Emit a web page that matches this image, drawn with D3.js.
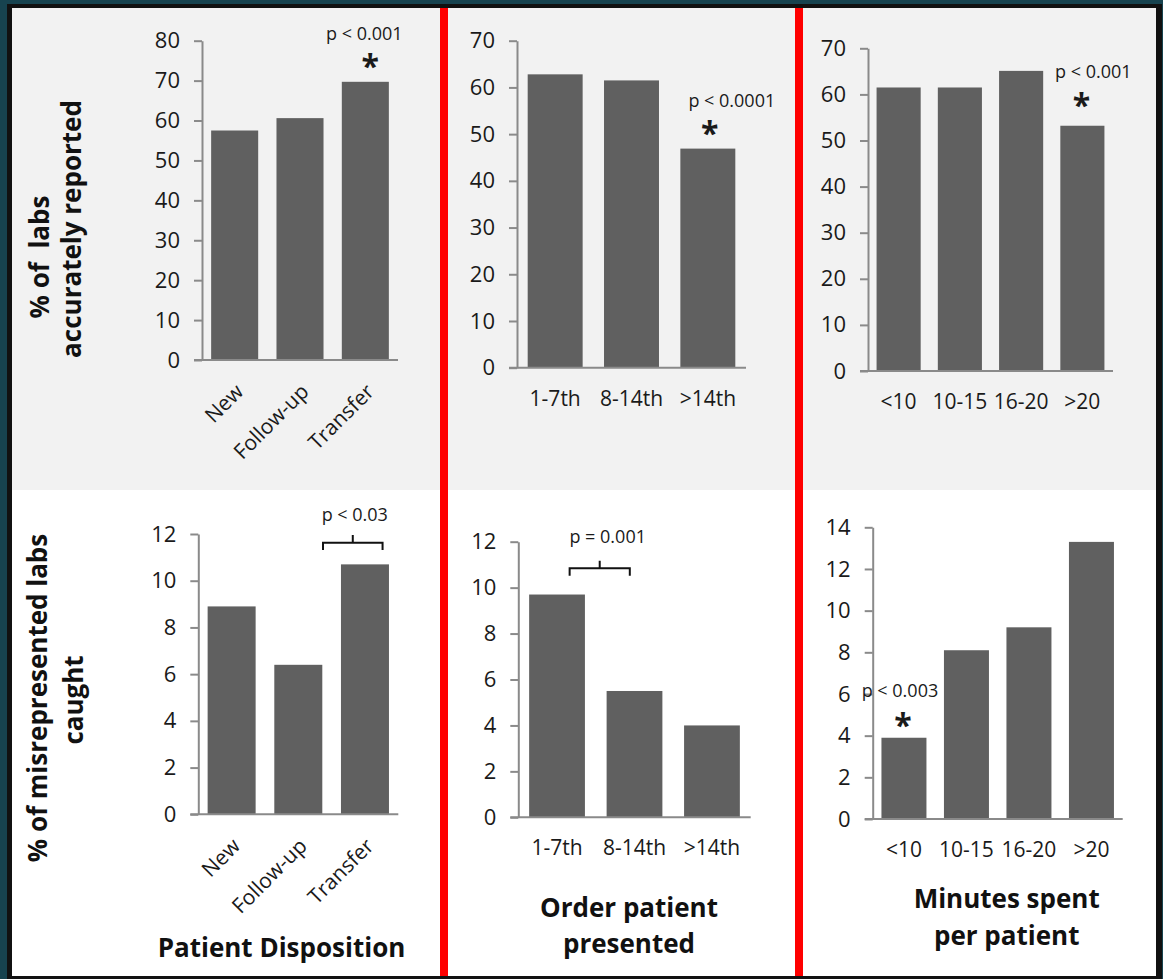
<!DOCTYPE html>
<html>
<head>
<meta charset="utf-8">
<script src="https://cdn.jsdelivr.net/npm/d3@7"></script>
<style>
  html, body { margin: 0; padding: 0; background: #17434f; }
  svg { display: block; }
  .tick text { font-family: "Open Sans", sans-serif; }
</style>
</head>
<body>
<svg id="chart" width="1163" height="979"></svg>
<script>
// Categories
const dispositionCats = ["New", "Follow-up", "Transfer"];
const orderCats = ["1-7th", "8-14th", ">14th"];
const minutesCats = ["<10", "10-15", "16-20", ">20"];

// % of labs accurately reported
const accurateByDisposition = [57.5, 60.6, 69.7];
const accurateByOrder = [62.8, 61.5, 46.9];
const accurateByMinutes = [61.5, 61.5, 65.1, 53.2];

// % of misrepresented labs caught
const caughtByDisposition = [8.9, 6.4, 10.7];
const caughtByOrder = [9.7, 5.5, 4.0];
const caughtByMinutes = [3.9, 8.1, 9.2, 13.3];

// Y tick values
const ticks0to80 = [0, 10, 20, 30, 40, 50, 60, 70, 80];
const ticks0to70 = [0, 10, 20, 30, 40, 50, 60, 70];
const ticks0to12 = [0, 2, 4, 6, 8, 10, 12];
const ticks0to14 = [0, 2, 4, 6, 8, 10, 12, 14];

// Significance labels
const pTopDisposition = "p < 0.001";
const pTopOrder = "p < 0.0001";
const pTopMinutes = "p < 0.001";
const pBottomDisposition = "p < 0.03";
const pBottomOrder = "p = 0.001";
const pBottomMinutes = "p < 0.003";

const W = 1163, H = 979;
const svg = d3.select("#chart");
const FONT = "'Open Sans', sans-serif";
const BAR = "#606060";
const AXIS = "#8a8a8a";

// Slide frame and backgrounds
svg.append("rect").attr("x", 0).attr("y", 0).attr("width", W).attr("height", H).attr("fill", "#17434f");
svg.append("rect").attr("x", 7).attr("y", 4).attr("width", 1155).attr("height", 975).attr("fill", "#111");
svg.append("rect").attr("x", 12).attr("y", 8).attr("width", 1144).attr("height", 482).attr("fill", "#f2f2f2");
svg.append("rect").attr("x", 12).attr("y", 490).attr("width", 1144).attr("height", 486).attr("fill", "#ffffff");

function drawPanel(cfg) {
  const g = svg.append("g");
  const x = d3.scaleBand().domain(cfg.cats).range([cfg.x0, cfg.x1])
    .paddingInner(0.28).paddingOuter(0.14);
  const y = d3.scaleLinear().domain([0, cfg.max]).range([cfg.y0, cfg.y1]);

  // Bars
  g.selectAll("rect.bar").data(cfg.values).join("rect")
    .attr("class", "bar")
    .attr("x", (d, i) => x(cfg.cats[i]))
    .attr("width", x.bandwidth())
    .attr("y", d => y(d))
    .attr("height", d => y(0) - y(d))
    .attr("fill", BAR);

  // Y axis
  const ya = g.append("g").attr("transform", `translate(${cfg.x0},0)`)
    .call(d3.axisLeft(y).tickValues(cfg.ticks).tickSize(8).tickSizeOuter(0).tickPadding(14));
  ya.select(".domain").attr("stroke", AXIS).attr("stroke-width", 2);
  ya.selectAll(".tick line").attr("stroke", AXIS).attr("stroke-width", 2);
  ya.selectAll(".tick text").attr("font-size", 22).attr("fill", "#1a1a1a").attr("font-family", FONT);

  // X axis with category labels
  const xa = g.append("g").attr("transform", `translate(0,${cfg.y0})`)
    .call(d3.axisBottom(x).tickSize(0).tickPadding(23));
  xa.select(".domain").remove();
  xa.selectAll(".tick text").attr("font-size", 21).attr("fill", "#1a1a1a").attr("font-family", FONT);
  if (cfg.rotate) {
    xa.selectAll(".tick text")
      .attr("text-anchor", "end")
      .attr("dy", null)
      .attr("y", null)
      .attr("transform", "translate(10,33) rotate(-45)");
  }
  g.append("line")
    .attr("x1", cfg.x0 - 8).attr("x2", cfg.x1)
    .attr("y1", cfg.y0).attr("y2", cfg.y0)
    .attr("stroke", AXIS).attr("stroke-width", 2);

  return { g, x, y };
}

function pText(g, cx, base, txt) {
  g.append("text").attr("x", cx).attr("y", base)
    .attr("text-anchor", "middle").attr("font-family", FONT)
    .attr("font-size", 18).attr("fill", "#1a1a1a").text(txt);
}
function star(g, cx, cy) {
  g.append("text").attr("x", cx).attr("y", cy + 17)
    .attr("text-anchor", "middle").attr("font-family", FONT)
    .attr("font-weight", 700).attr("font-size", 32).attr("fill", "#1a1a1a").text("*");
}
function bracket(g, xa, xb, yLine, drop, tip) {
  const xm = (xa + xb) / 2;
  g.append("path")
    .attr("d", `M${xa},${yLine + drop} L${xa},${yLine} L${xb},${yLine} L${xb},${yLine + drop} M${xm},${yLine} L${xm},${yLine - tip}`)
    .attr("fill", "none").attr("stroke", "#111").attr("stroke-width", 2);
}
function title(x, y, lines, rotate, lineGap) {
  const t = svg.append("text")
    .attr("font-family", FONT).attr("font-weight", 700).attr("font-size", 26)
    .attr("fill", "#111").attr("text-anchor", "middle")
    .attr("transform", rotate ? `translate(${x},${y}) rotate(-90)` : `translate(${x},${y})`);
  lines.forEach((l, i) => {
    t.append("tspan").attr("x", l.dx || 0).attr("y", i * lineGap).style("white-space", "pre").text(l.text);
  });
}

// Top row: % of labs accurately reported
const p1 = drawPanel({ cats: dispositionCats, values: accurateByDisposition, ticks: ticks0to80, max: 80,
  x0: 202, x1: 398, y0: 360, y1: 40.7, rotate: true });
{
  const cx = p1.x("Transfer") + p1.x.bandwidth() / 2, top = p1.y(accurateByDisposition[2]);
  pText(p1.g, cx - 1, top - 41.5, pTopDisposition);
  star(p1.g, cx + 5, top - 20.6);
}
const p2 = drawPanel({ cats: orderCats, values: accurateByOrder, ticks: ticks0to70, max: 70,
  x0: 517, x1: 746, y0: 367.7, y1: 40.7, rotate: false });
{
  const cx = p2.x(">14th") + p2.x.bandwidth() / 2, top = p2.y(accurateByOrder[2]);
  pText(p2.g, cx + 24, top - 41.5, pTopOrder);
  star(p2.g, cx + 2, top - 20.7);
}
const p3 = drawPanel({ cats: minutesCats, values: accurateByMinutes, ticks: ticks0to70, max: 70,
  x0: 868, x1: 1113, y0: 371, y1: 48.3, rotate: false });
{
  const cx = p3.x(">20") + p3.x.bandwidth() / 2, top = p3.y(accurateByMinutes[3]);
  pText(p3.g, cx + 11, top - 47.7, pTopMinutes);
  star(p3.g, cx - 1, top - 25.7);
}

// Bottom row: % of misrepresented labs caught
const p4 = drawPanel({ cats: dispositionCats, values: caughtByDisposition, ticks: ticks0to12, max: 12,
  x0: 198.3, x1: 398.3, y0: 814.3, y1: 534, rotate: true });
{
  const xa = p4.x("Follow-up") + p4.x.bandwidth() + 0.7;
  const xb = p4.x("Transfer") + p4.x.bandwidth() - 6.4;
  bracket(p4.g, xa, xb, 542.7, 7.3, 7.7);
  pText(p4.g, (xa + xb) / 2 + 2, 520.7, pBottomDisposition);
}
const p5 = drawPanel({ cats: orderCats, values: caughtByOrder, ticks: ticks0to12, max: 12,
  x0: 518.3, x1: 750.7, y0: 817.3, y1: 541.7, rotate: false });
{
  const xa = p5.x("1-7th") + p5.x.bandwidth() / 2 + 12.6;
  const xb = p5.x("8-14th") + p5.x.bandwidth() / 2 - 4.7;
  bracket(p5.g, xa, xb, 568.3, 7.4, 7.6);
  pText(p5.g, (xa + xb) / 2 + 8, 543.3, pBottomOrder);
}
const p6 = drawPanel({ cats: minutesCats, values: caughtByMinutes, ticks: ticks0to14, max: 14,
  x0: 872.7, x1: 1122.7, y0: 819, y1: 527.3, rotate: false });
{
  const cx = p6.x("<10") + p6.x.bandwidth() / 2, top = p6.y(caughtByMinutes[0]);
  pText(p6.g, cx - 4, top - 40.5, pBottomMinutes);
  star(p6.g, cx - 1, top - 18);
}

// Column dividers
svg.append("rect").attr("x", 440).attr("y", 8).attr("width", 8).attr("height", 968).attr("fill", "#ff0000");
svg.append("rect").attr("x", 795).attr("y", 8).attr("width", 8).attr("height", 968).attr("fill", "#ff0000");

// Axis titles
title(49, 257, [{ text: "% of  labs" }], true, 0);
title(81, 229, [{ text: "accurately reported" }], true, 0);
title(47, 698, [{ text: "% of misrepresented labs" }], true, 0);
title(83, 700, [{ text: "caught" }], true, 0);
title(281.5, 956.7, [{ text: "Patient Disposition" }], false, 0);
title(629, 916.7, [{ text: "Order patient" }, { text: "presented" }], false, 36.6);
title(1006.7, 908.3, [{ text: "Minutes spent" }, { text: "per patient" }], false, 36.7);
</script>
</body>
</html>
